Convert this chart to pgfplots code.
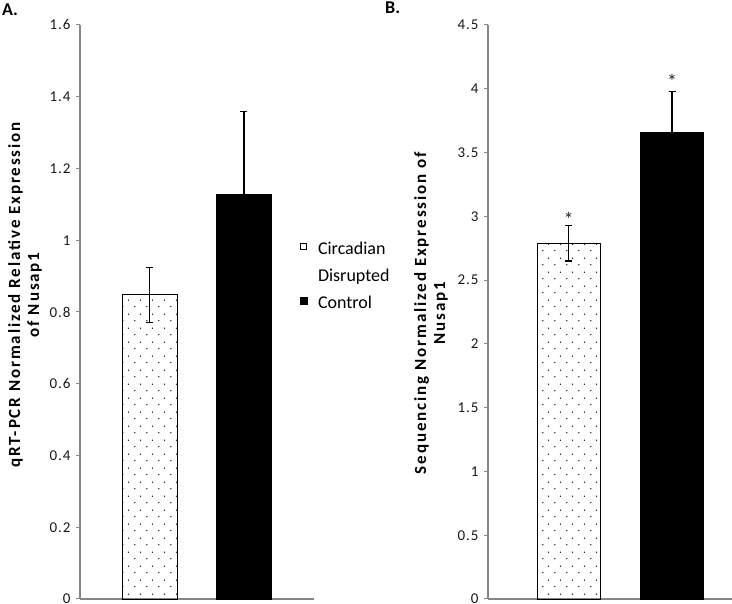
\documentclass[border=0pt]{standalone}
\usepackage{fontspec}
\setmainfont{Carlito}
\newfontfamily\lblfont[LetterSpace=11]{Carlito}
\newfontfamily\tickfont[LetterSpace=6]{Carlito}
\usepackage{pgfplots}
\pgfplotsset{compat=1.18}
\usetikzlibrary{patterns.meta}
\definecolor{axgray}{RGB}{134,134,134}
\tikzdeclarepattern{
  name=sparsedots,
  type=uncolored,
  bottom left={(0pt,0pt)},
  top right={(12pt,14pt)},
  tile size={(12pt,14pt)},
  code={
    \fill (3pt,3.5pt) circle (0.75pt);
    \fill (9pt,10.5pt) circle (0.75pt);
  }
}
\pgfplotsset{
  panel/.style={
    scale only axis,
    axis lines=left,
    axis line style={-, draw=axgray, line width=1.2pt},
    ytick style={draw=axgray, line width=1pt},
    tick align=outside,
    major tick length=4pt,
    xtick=\empty,
    ymin=0,
    clip=false,
    /pgf/number format/assume math mode=true,
    /pgf/number format/fixed,
    tick label style={font=\tickfont\fontsize{15}{16}\selectfont, text=black!90},
    yticklabel style={xshift=-2pt},
    ylabel style={rotate=0, anchor=south, inner sep=0pt, align=center,
                  font=\lblfont\bfseries\fontsize{17}{19}\selectfont},
  },
  errstyle/.style={
    error bars/.cd, y dir=both, y explicit,
    error bar style={line width=1.2pt, black},
    error mark options={rotate=90, mark size=3.5pt, line width=1.2pt, black},
    /pgfplots/.cd,
  },
}
\begin{document}
\begin{tikzpicture}
\path[use as bounding box] (0,0) rectangle (732pt,604pt);
% Panel A
\begin{axis}[panel,
  at={(80pt,5pt)}, anchor=south west,
  width=234pt, height=574pt,
  xmin=0.265, xmax=2.741,
  ymax=1.6, ytick distance=0.2,
  ylabel={qRT-PCR Normalized Relative Expression\\of Nusap1},
  ylabel style={at={(axis description cs:-0.162,0.53)}},
  legend style={draw=none, fill=none, at={(axis description cs:0.94,0.626)},
    anchor=north west, font=\fontsize{18}{20}\selectfont, row sep=9pt,
    inner sep=0pt},
  legend cell align=left,
]
\addplot[ybar, bar shift=0pt, bar width=55pt, draw=black, line width=0.9pt,
  pattern=sparsedots,
  legend image code/.code={\draw[black, fill=white, line width=0.8pt] (0pt,-1pt) rectangle (6pt,5pt); \path (15pt,0pt);},
  errstyle]
  coordinates {(1,0.848) +- (0,0.077)};
\addlegendentry{Circadian}
\addlegendimage{legend image code/.code={\path (0pt,0pt) (15pt,0pt);}}
\addlegendentry{Disrupted}
\addplot[ybar, bar shift=0pt, bar width=55pt, draw=black, fill=black,
  legend image code/.code={\fill[black] (0pt,-6.5pt) rectangle (7pt,0.5pt); \path (15pt,-10pt);},
  errstyle]
  coordinates {(2,1.129) +- (0,0.229)};
\addlegendentry{\raisebox{-10pt}{Control}}
\end{axis}
% Panel B
\begin{axis}[panel,
  at={(488pt,5pt)}, anchor=south west,
  width=244pt, height=574pt,
  xmin=0.222, xmax=2.579,
  ymax=4.5, ytick distance=0.5,
  ylabel={Sequencing Normalized Expression of\\Nusap1},
  ylabel style={at={(axis description cs:-0.164,0.498)}},
]
\addplot[ybar, bar shift=0pt, bar width=63pt, draw=black, line width=0.9pt,
  pattern=sparsedots, errstyle]
  coordinates {(1,2.79) +- (0,0.14)};
\addplot[ybar, bar shift=0pt, bar width=63pt, draw=black, fill=black, errstyle]
  coordinates {(2,3.66) +- (0,0.32)};
\node[font=\fontsize{20}{20}\selectfont, text=black!85] at (axis cs:1,2.975) {*};
\node[font=\fontsize{20}{20}\selectfont, text=black!85] at (axis cs:2,4.055) {*};
\end{axis}
\node[anchor=north west, inner sep=0pt, font=\bfseries\fontsize{18}{18}\selectfont] at (2pt,600pt) {A.};
\node[anchor=north west, inner sep=0pt, font=\bfseries\fontsize{18}{18}\selectfont] at (385pt,602pt) {B.};
\end{tikzpicture}
\end{document}
